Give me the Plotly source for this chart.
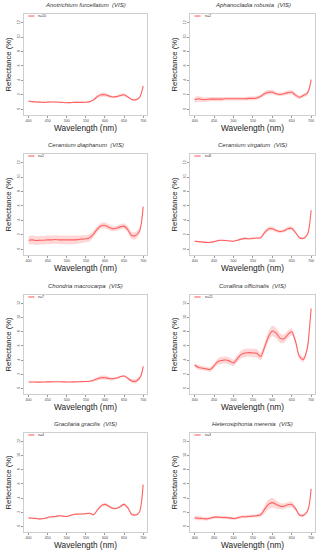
import plotly.graph_objects as go

wavelength = [400, 410, 420, 430, 440, 450, 460, 470, 480, 490, 500, 510, 520, 530, 540, 550,
              560, 570, 580, 590, 600, 610, 620, 630, 640, 650, 660, 670, 680, 690, 695, 700]

species = ["Anotrichium furcellatum", "Aphanocladia robusta", "Ceramium diaphanum",
           "Ceramium virgatum", "Chondria macrocarpa", "Corallina officinalis",
           "Gracilaria gracilis", "Heterosiphonia merenia"]
n_labels = ["n=10", "n=2", "n=2", "n=8", "n=7", "n=11", "n=4", "n=3"]

mean_anotrichium = [1.15, 1.05, 1.0, 0.98, 0.95, 0.98, 1.0, 1.0, 0.97, 0.93, 0.9, 0.92, 0.95, 0.95, 0.95, 0.97,
                    1.05, 1.3, 1.75, 2.0, 2.0, 1.85, 1.7, 1.75, 1.9, 2.0, 1.7, 1.35, 1.3, 1.6, 2.2, 3.2]
sd_anotrichium = [0.08, 0.08, 0.08, 0.08, 0.08, 0.08, 0.08, 0.08, 0.08, 0.08, 0.08, 0.08, 0.08, 0.08, 0.08, 0.08,
                  0.1, 0.15, 0.25, 0.28, 0.28, 0.22, 0.15, 0.15, 0.2, 0.22, 0.15, 0.1, 0.1, 0.12, 0.15, 0.2]

mean_aphanocladia = [1.3, 1.45, 1.35, 1.35, 1.4, 1.4, 1.4, 1.4, 1.45, 1.45, 1.45, 1.45, 1.45, 1.45, 1.5, 1.5,
                     1.55, 1.8, 2.15, 2.35, 2.35, 2.15, 2.05, 2.15, 2.3, 2.35, 1.95, 1.65, 1.9, 2.2, 2.8, 4.1]
sd_aphanocladia = [0.4, 0.4, 0.35, 0.3, 0.3, 0.3, 0.28, 0.28, 0.25, 0.25, 0.25, 0.25, 0.25, 0.25, 0.25, 0.25,
                   0.25, 0.25, 0.3, 0.3, 0.3, 0.25, 0.25, 0.25, 0.3, 0.3, 0.3, 0.25, 0.25, 0.25, 0.25, 0.25]

mean_cer_diaphanum = [1.25, 1.3, 1.2, 1.25, 1.25, 1.3, 1.3, 1.35, 1.3, 1.3, 1.3, 1.3, 1.3, 1.35, 1.4, 1.45,
                      1.6, 2.1, 2.8, 3.25, 3.3, 3.05, 2.85, 2.9, 3.1, 3.2, 2.7, 1.9, 1.9, 2.5, 3.5, 5.9]
sd_cer_diaphanum = [0.6, 0.6, 0.6, 0.6, 0.6, 0.6, 0.6, 0.6, 0.6, 0.6, 0.6, 0.6, 0.6, 0.55, 0.55, 0.5,
                    0.5, 0.45, 0.4, 0.4, 0.4, 0.4, 0.35, 0.35, 0.35, 0.35, 0.45, 0.5, 0.5, 0.45, 0.3, 0.2]

mean_cer_virgatum = [1.1, 1.05, 1.0, 0.95, 0.95, 1.05, 1.2, 1.25, 1.2, 1.15, 1.1, 1.25, 1.4, 1.5, 1.45, 1.5,
                     1.55, 1.6, 2.3, 2.8, 2.85, 2.6, 2.45, 2.55, 2.85, 2.9, 2.3, 1.6, 1.5, 2.0, 3.0, 5.4]
sd_cer_virgatum = [0.1, 0.1, 0.1, 0.1, 0.1, 0.1, 0.1, 0.1, 0.1, 0.1, 0.1, 0.12, 0.12, 0.12, 0.12, 0.12,
                   0.12, 0.15, 0.25, 0.3, 0.3, 0.25, 0.2, 0.2, 0.25, 0.25, 0.2, 0.15, 0.15, 0.15, 0.15, 0.2]

mean_chondria = [0.9, 0.9, 0.88, 0.88, 0.9, 0.92, 0.92, 0.93, 0.93, 0.92, 0.9, 0.9, 0.92, 0.93, 0.95, 0.97,
                 1.0, 1.15, 1.35, 1.5, 1.5, 1.4, 1.35, 1.45, 1.65, 1.75, 1.4, 1.05, 1.0, 1.4, 1.9, 3.1]
sd_chondria = [0.07, 0.07, 0.07, 0.07, 0.07, 0.07, 0.07, 0.07, 0.07, 0.07, 0.07, 0.07, 0.08, 0.08, 0.08, 0.1,
               0.12, 0.18, 0.25, 0.3, 0.3, 0.25, 0.2, 0.15, 0.15, 0.15, 0.2, 0.25, 0.3, 0.3, 0.25, 0.2]

mean_corallina = [3.3, 2.95, 2.85, 2.75, 2.65, 3.2, 3.8, 3.95, 4.0, 3.85, 3.6, 4.2, 4.8, 5.0, 5.05, 5.0,
                  4.95, 4.5, 5.8, 7.3, 8.1, 7.8, 7.1, 7.0, 7.6, 8.0, 6.6, 4.5, 4.1, 5.6, 8.0, 11.3]
sd_corallina = [0.3, 0.3, 0.3, 0.3, 0.3, 0.35, 0.45, 0.5, 0.5, 0.5, 0.45, 0.5, 0.55, 0.6, 0.6, 0.6,
                0.6, 0.55, 0.6, 0.7, 0.75, 0.75, 0.7, 0.6, 0.55, 0.5, 0.45, 0.4, 0.4, 0.35, 0.3, 0.3]

mean_gracilaria = [1.2, 1.15, 1.1, 1.05, 1.1, 1.25, 1.35, 1.4, 1.5, 1.45, 1.4, 1.55, 1.7, 1.75, 1.75, 1.8,
                   1.85, 1.65, 2.3, 2.9, 3.1, 2.85, 2.55, 2.55, 2.8, 3.1, 2.6, 1.7, 1.6, 2.0, 3.2, 5.9]
sd_gracilaria = [0.1, 0.1, 0.1, 0.1, 0.1, 0.1, 0.1, 0.1, 0.1, 0.1, 0.1, 0.1, 0.1, 0.1, 0.1, 0.1,
                 0.1, 0.12, 0.15, 0.2, 0.2, 0.18, 0.15, 0.15, 0.15, 0.18, 0.15, 0.12, 0.12, 0.12, 0.15, 0.2]

mean_heterosiphonia = [1.2, 1.15, 1.1, 1.05, 1.15, 1.3, 1.3, 1.25, 1.25, 1.2, 1.1, 1.2, 1.35, 1.35, 1.4, 1.45,
                       1.5, 1.65, 2.4, 3.1, 3.35, 3.1, 2.85, 2.85, 3.05, 3.1, 2.5, 1.6, 1.55, 2.1, 3.0, 5.3]
sd_heterosiphonia = [0.3, 0.3, 0.25, 0.25, 0.22, 0.2, 0.2, 0.2, 0.2, 0.2, 0.2, 0.2, 0.2, 0.2, 0.2, 0.2,
                     0.22, 0.3, 0.55, 0.7, 0.7, 0.6, 0.45, 0.4, 0.4, 0.4, 0.3, 0.2, 0.2, 0.2, 0.2, 0.2]

means = [mean_anotrichium, mean_aphanocladia, mean_cer_diaphanum, mean_cer_virgatum,
         mean_chondria, mean_corallina, mean_gracilaria, mean_heterosiphonia]
sds = [sd_anotrichium, sd_aphanocladia, sd_cer_diaphanum, sd_cer_virgatum,
       sd_chondria, sd_corallina, sd_gracilaria, sd_heterosiphonia]

x_ticks = [400, 450, 500, 550, 600, 650, 700]
y_ticks = [0, 2, 4, 6, 8, 10, 12]

W, H = 318, 550
col_px = [(24, 147), (190, 315)]
row_px = [(14, 115), (154, 255), (295, 394), (433, 532)]

LINE = "rgba(255,90,90,0.95)"
BAND = "rgba(255,110,110,0.28)"
FONT = "Liberation Sans, Arial, sans-serif"

fig = go.Figure()
annotations = []
shapes = []
layout_axes = {}

for i in range(8):
    r, c = divmod(i, 2)
    k = i + 1
    xs = "x" if k == 1 else f"x{k}"
    ys = "y" if k == 1 else f"y{k}"
    xa = "xaxis" if k == 1 else f"xaxis{k}"
    ya = "yaxis" if k == 1 else f"yaxis{k}"
    x0, x1 = col_px[c]
    y0, y1 = row_px[r]
    xdom = [x0 / W, x1 / W]
    ydom = [1 - y1 / H, 1 - y0 / H]

    m, s = means[i], sds[i]
    upper = [a + b for a, b in zip(m, s)]
    lower = [a - b for a, b in zip(m, s)]
    fig.add_trace(go.Scatter(x=wavelength, y=upper, mode="lines", line=dict(width=0, shape="spline", smoothing=0.8),
                             xaxis=xs, yaxis=ys, showlegend=False, hoverinfo="skip"))
    fig.add_trace(go.Scatter(x=wavelength, y=lower, mode="lines", line=dict(width=0, shape="spline", smoothing=0.8),
                             fill="tonexty", fillcolor=BAND,
                             xaxis=xs, yaxis=ys, showlegend=False, hoverinfo="skip"))
    fig.add_trace(go.Scatter(x=wavelength, y=m, mode="lines",
                             line=dict(color=LINE, width=1.1, shape="spline", smoothing=0.8),
                             xaxis=xs, yaxis=ys, showlegend=False))

    common = dict(showgrid=False, zeroline=False, showline=True, mirror=True,
                  linecolor="#cfcfcf", linewidth=1, ticks="outside", ticklen=2,
                  tickcolor="#9a9a9a", tickwidth=0.6,
                  tickfont=dict(size=3.6, color="#444", family=FONT))
    layout_axes[xa] = dict(common, domain=xdom, range=[388, 710], tickvals=x_ticks,
                           anchor=ys,
                           title=dict(text="Wavelength (nm)", font=dict(size=8.3, color="#222", family=FONT),
                                      standoff=1 if r < 3 else 0))
    layout_axes[ya] = dict(common, domain=ydom, range=[-0.8, 13.2], tickvals=y_ticks,
                           anchor=xs, tickangle=-90,
                           title=dict(text="Reflectance (%)", font=dict(size=7.6, color="#222", family=FONT),
                                      standoff=3))

    # panel title
    annotations.append(dict(text=f"<i>{species[i]}&nbsp; (VIS)</i>", x=(xdom[0] + xdom[1]) / 2,
                            y=ydom[1], xref="paper", yref="paper", xanchor="center", yanchor="bottom",
                            yshift=4, showarrow=False, font=dict(size=6, color="#333", family=FONT)))
    # legend key inside the plot box
    shapes.append(dict(type="line", xref=f"{xs} domain", yref=f"{ys} domain",
                       x0=0.035, x1=0.085, y0=0.98, y1=0.98, line=dict(color=LINE, width=1.1)))
    annotations.append(dict(text=n_labels[i], xref=f"{xs} domain", yref=f"{ys} domain",
                            x=0.1, y=0.98, xanchor="left", yanchor="middle", showarrow=False,
                            font=dict(size=3.6, color="#333", family=FONT)))

fig.update_layout(width=W, height=H, margin=dict(l=0, r=0, t=0, b=0),
                  paper_bgcolor="white", plot_bgcolor="white",
                  annotations=annotations, shapes=shapes, **layout_axes)

fig.write_html("out.html", config={"displayModeBar": False},
               post_script="document.body.style.margin='0px';document.body.style.overflow='hidden';")
